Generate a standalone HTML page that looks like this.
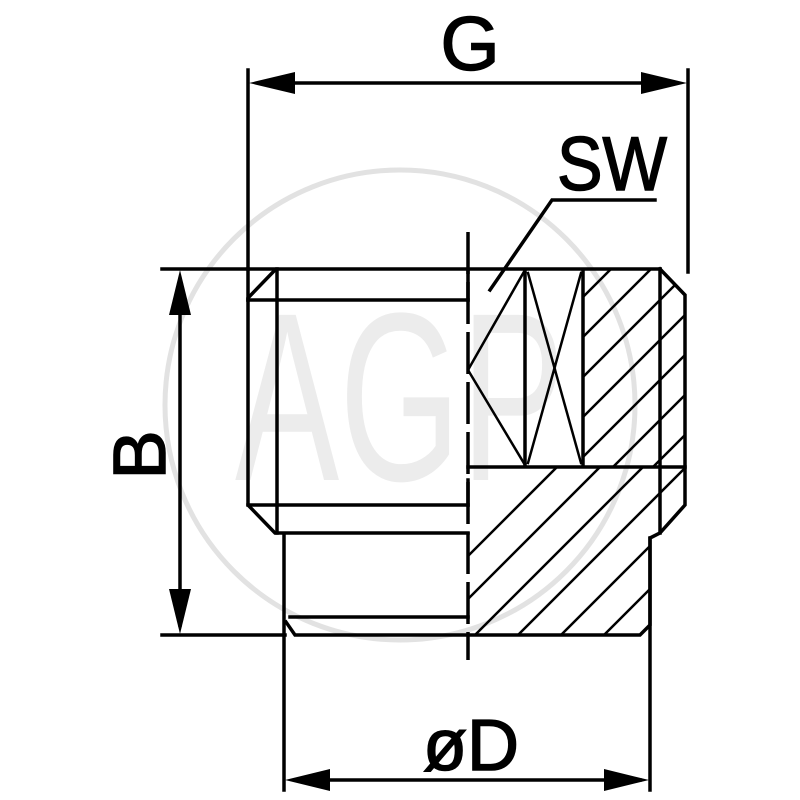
<!DOCTYPE html>
<html><head><style>html,body{margin:0;padding:0;background:#fff}svg{display:block}</style></head>
<body>
<svg width="800" height="800" viewBox="0 0 800 800" xmlns="http://www.w3.org/2000/svg">
<defs>
<clipPath id="h1"><polygon points="583,269 660,269 685,295 685,467 583,467"/></clipPath>
<clipPath id="h2"><polygon points="468,467 685,467 685,505 660,533 650,540 650,625 640,635 468,635"/></clipPath>
</defs>
<!-- watermark -->
<circle cx="400" cy="405" r="235" fill="none" stroke="#e2e2e2" stroke-width="5"/>
<text x="400" y="480" font-family="Liberation Sans, sans-serif" font-size="240" fill="#ececec" text-anchor="middle" textLength="330" lengthAdjust="spacingAndGlyphs">AGP</text>

<g stroke="#000" stroke-width="3.5" fill="none" stroke-linecap="square">
<g clip-path="url(#h1)" stroke-width="2.5">
<path d="M560,480 L780,260 M560,440 L780,220 M560,400 L780,180 M560,360 L780,140 M560,320 L780,100 M560,520 L780,300 M560,560 L780,340"/>
</g>
<g clip-path="url(#h2)" stroke-width="2.5">
<path d="M430,680 L730,380 M473,680 L773,380 M516,680 L816,380 M559,680 L859,380 M602,680 L902,380 M645,680 L945,380 M387,680 L687,380 M344,680 L644,380"/>
</g>
<line x1="248" y1="269" x2="660" y2="269"/>
<polyline points="660,269 685,295 685,505 660,533 650,538 650,625 640,635 295,635 286,622"/>
<line x1="660" y1="269" x2="660" y2="533"/>
<polyline points="275,270 248,298 248,505 275,533 468,533"/>
<line x1="277" y1="269" x2="277" y2="533"/>
<line x1="248" y1="300" x2="468" y2="300"/>
<line x1="248" y1="505" x2="468" y2="505"/>
<line x1="468" y1="467" x2="685" y2="467"/>
<line x1="468" y1="300" x2="468" y2="270"/>
<line x1="468" y1="505" x2="468" y2="480"/>
<line x1="290" y1="617" x2="468" y2="617"/>
<polyline points="525,270 468,370 525,465" stroke-width="2.5"/>
<line x1="525" y1="270" x2="525" y2="465"/>
<line x1="583" y1="270" x2="583" y2="465"/>
<line x1="528" y1="273" x2="581" y2="463" stroke-width="2.5"/>
<line x1="581" y1="273" x2="528" y2="463" stroke-width="2.5"/>
<line x1="468" y1="232" x2="468" y2="660" stroke-dasharray="42,8" stroke-linecap="butt"/>
<line x1="284" y1="535" x2="284" y2="790"/>
<line x1="650" y1="538" x2="650" y2="790"/>
<line x1="248" y1="70" x2="248" y2="300"/>
<line x1="688" y1="70" x2="688" y2="272"/>
<line x1="260" y1="83" x2="676" y2="83"/>
<line x1="162" y1="269" x2="248" y2="269"/>
<line x1="162" y1="635" x2="285" y2="635"/>
<line x1="180" y1="280" x2="180" y2="625"/>
<line x1="295" y1="780" x2="640" y2="780"/>
<polyline points="490,290 552,200 655,200"/>
</g>
<g fill="#000">
<polygon points="249,83 295,72 295,94"/>
<polygon points="687,83 641,72 641,94"/>
<polygon points="180,270 169,315 191,315"/>
<polygon points="180,634 169,589 191,589"/>
<polygon points="285,780 330,769 330,791"/>
<polygon points="649,780 604,769 604,791"/>
</g>
<g font-family="Liberation Sans, sans-serif" fill="#000" stroke="#000" stroke-width="1.5">
<text x="470" y="70" font-size="76" text-anchor="middle">G</text>
<text x="557" y="190" font-size="76" textLength="110" lengthAdjust="spacingAndGlyphs">SW</text>
<text transform="translate(165,455) rotate(-90)" font-size="74" text-anchor="middle">B</text>
<text x="471" y="770" font-size="72" text-anchor="middle">øD</text>
</g>
</svg>
</body></html>
